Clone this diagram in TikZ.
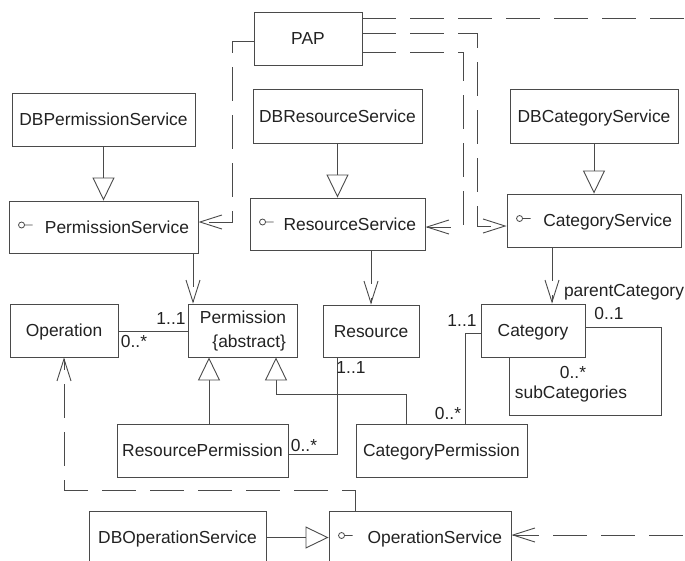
\documentclass[tikz,border=0pt]{standalone}
\usepackage{fontspec}
\setmainfont{Liberation Sans}
\usetikzlibrary{arrows.meta,calc}
\definecolor{linec}{HTML}{4A4A4A}
\definecolor{txtc}{HTML}{222222}
\newcommand\lblfont{\fontsize{17.4}{20}\selectfont}
\begin{document}
\begin{tikzpicture}[x=1pt,y=-1pt,
 boxbase/.style={draw=linec,line width=0.9pt,fill=white,inner sep=0pt,font=\lblfont,text=txtc},
 ubox/.style={boxbase,text height=12pt,text depth=0pt},
 svc/.style={ubox,inner xsep=9pt,align=right},
 lbl/.style={font=\lblfont,text=txtc,inner sep=0pt,text height=12pt,text depth=0pt},
 gen/.style={draw=linec,line width=0.9pt,-{Triangle[open,length=23pt,width=22pt,fill=white]}},
 dep/.style={draw=linec,line width=0.9pt,dash pattern=on 34pt off 14pt,-{Straight Barb[length=22pt,width=14pt]}},
 assoc/.style={draw=linec,line width=0.9pt},
]
\useasboundingbox (0,0) rectangle (685,560);
\clip (0,0) rectangle (685,560);

% nodes
\node[ubox,minimum width=108pt,minimum height=53pt] (pap) at (308,38.5) {PAP};
\node[ubox,minimum width=183pt,minimum height=53pt] (dbps) at (103.5,119.5) {DBPermissionService};
\node[ubox,minimum width=169pt,minimum height=54pt] (dbrs) at (337.5,116) {DBResourceService};
\node[ubox,minimum width=168pt,minimum height=54pt] (dbcs) at (594,116) {DBCategoryService};
\node[svc,text width=171pt,minimum height=52pt] (ps) at (103.5,227) {PermissionService};
\node[svc,text width=157pt,minimum height=52pt] (rs) at (337.5,224) {ResourceService};
\node[svc,text width=156pt,minimum height=53pt] (cs) at (594,220.5) {CategoryService};
\node[ubox,minimum width=108pt,minimum height=53pt] (op) at (64,330.5) {Operation};
\node[boxbase,inner xsep=11pt,text width=87pt,align=right,minimum height=53pt,font=\fontsize{17.4}{24}\selectfont] (perm) at (242.5,330.5) {Permission\\\{abstract\}};
\node[ubox,minimum width=96pt,minimum height=52pt] (res) at (371,331) {Resource};
\node[ubox,minimum width=104pt,minimum height=53pt] (cat) at (533,330.5) {Category};
\node[ubox,minimum width=171pt,minimum height=53pt] (rp) at (202.5,450.5) {ResourcePermission};
\node[ubox,minimum width=171pt,minimum height=53pt] (cp) at (441.5,450.5) {CategoryPermission};
\node[ubox,minimum width=177pt,minimum height=53pt] (dbos) at (177.5,537.5) {DBOperationService};
\node[svc,text width=164pt,minimum height=53pt] (os) at (420,537.5) {OperationService};

% interface lollipops
\foreach \n in {ps,rs,cs,os}{
  \draw[linec,line width=0.8pt] ([xshift=13pt,yshift=2pt]\n.west) circle (3pt)
        ([xshift=16pt,yshift=2pt]\n.west) -- ([xshift=24pt,yshift=2pt]\n.west);
}

% generalizations
\draw[gen] (dbps.south) -- (ps.north);
\draw[gen] (dbrs.south) -- (rs.north);
\draw[gen] (dbcs.south) -- (cs.north);
\draw[gen] (dbos.east) -- (os.west);
\draw[gen] (rp.north -| 209,0) -- (perm.south -| 209,0);
\draw[gen] (cp.north -| 406,0) |- (276,394) -- (perm.south -| 276,0);

% dependencies
\draw[dep] (ps.south -| 193,0) -- (perm.north -| 193,0);
\draw[dep] (res.north |- rs.south) -- (res.north);
\draw[dep] (cs.south -| 552,0) -- (cat.north -| 552,0);
\draw[dep] (os.north -| 355,0) |- (op.south |- 0,490) -- (op.south);
\draw[dep] (pap.west |- 0,41) -- (232,41) |- (ps.east |- 0,222);
\draw[dep] (pap.east |- 0,52) -| (463,227) -- (rs.east |- 0,227);
\draw[dep] (pap.east |- 0,33) -| (477,226) -- (cs.west |- 0,226);
\draw[dep] (pap.east |- 0,18) -- (720,18) -- (720,535) -- (os.east |- 0,535);

% associations
\draw[assoc] (op.east |- 0,331) -- (perm.west |- 0,331);
\draw[assoc] (res.south -| 337,0) |- (rp.east |- 0,454);
\draw[assoc] (cat.west |- 0,333) -| (cp.north -| 465,0);
\draw[assoc] (cat.east |- 0,327) -| (661,415) -| (cat.south -| 509,0);

% multiplicities and roles
\node[lbl] (l1) at (171,318) {1..1};
\node[lbl] (l2) at (134,341) {0..*};
\node[lbl] (l3) at (351,367) {1..1};
\node[lbl] (l4) at (304,445) {0..*};
\node[lbl] (l5) at (462,320) {1..1};
\node[lbl] (l6) at (448,413) {0..*};
\node[lbl] (l7) at (609,313) {0..1};
\node[lbl] (l8) at (624,290) {parentCategory};
\node[lbl] (l9) at (573,372) {0..*};
\node[lbl] (l10) at (571,392) {subCategories};
\end{tikzpicture}
\end{document}
